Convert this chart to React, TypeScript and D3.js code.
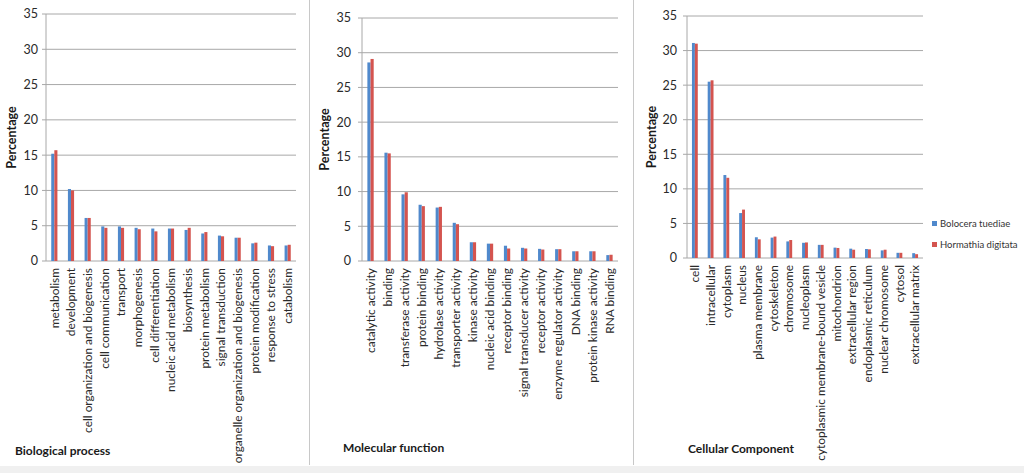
import React from "react";
import * as d3 from "d3";

const series = ["Bolocera tuediae", "Hormathia digitata"];
const colors = ["#5089cc", "#d4544f"];
const yTicks = [0, 5, 10, 15, 20, 25, 30, 35];

const bpCategories = [
  "metabolism", "development", "cell organization and biogenesis", "cell communication",
  "transport", "morphogenesis", "cell differentiation", "nucleic acid metabolism",
  "biosynthesis", "protein metabolism", "signal transduction",
  "organelle organization and biogenesis", "protein modification", "response to stress", "catabolism",
];
const bpBolocera = [15.2, 10.2, 6.1, 4.9, 4.9, 4.7, 4.6, 4.6, 4.4, 3.9, 3.6, 3.3, 2.5, 2.2, 2.2];
const bpHormathia = [15.7, 10.0, 6.1, 4.7, 4.7, 4.5, 4.2, 4.6, 4.7, 4.1, 3.5, 3.3, 2.6, 2.1, 2.3];

const mfCategories = [
  "catalytic activity", "binding", "transferase activity", "protein binding", "hydrolase activity",
  "transporter activity", "kinase activity", "nucleic acid binding", "receptor binding",
  "signal transducer activity", "receptor activity", "enzyme regulator activity", "DNA binding",
  "protein kinase activity", "RNA binding",
];
const mfBolocera = [28.6, 15.6, 9.6, 8.1, 7.7, 5.5, 2.7, 2.5, 2.2, 1.9, 1.75, 1.7, 1.4, 1.4, 0.85];
const mfHormathia = [29.1, 15.5, 9.9, 7.9, 7.8, 5.3, 2.7, 2.5, 1.8, 1.8, 1.65, 1.7, 1.4, 1.4, 0.9];

const ccCategories = [
  "cell", "intracellular", "cytoplasm", "nucleus", "plasma membrane", "cytoskeleton", "chromosome",
  "nucleoplasm", "cytoplasmic membrane-bound vesicle", "mitochondrion", "extracellular region",
  "endoplasmic reticulum", "nuclear chromosome", "cytosol", "extracellular matrix",
];
const ccBolocera = [31.1, 25.5, 12.0, 6.5, 3.0, 2.95, 2.4, 2.2, 1.9, 1.5, 1.35, 1.3, 1.1, 0.75, 0.7];
const ccHormathia = [31.0, 25.7, 11.6, 7.0, 2.7, 3.1, 2.6, 2.25, 1.9, 1.45, 1.2, 1.25, 1.2, 0.75, 0.55];

const FONT = "Lato, 'Open Sans', sans-serif";

type PanelProps = {
  title: string;
  cats: string[];
  a: number[];
  b: number[];
  x0: number;
  x1: number;
  yTop: number;
  yZero: number;
  tickRight: number;
  yTitleX: number;
  titleX: number;
  titleY: number;
};

function Panel(p: PanelProps) {
  const x = d3.scaleBand<string>().domain(p.cats).range([p.x0, p.x1]).padding(0);
  const y = d3.scaleLinear().domain([0, 35]).range([p.yZero, p.yTop]);
  const bw = x.bandwidth() * 0.185;
  const grid = "#a8a8a8";
  return (
    <g>
      {yTicks.map((t) => (
        <g key={t}>
          <line x1={p.x0 - 4} x2={p.x1} y1={y(t)} y2={y(t)} stroke={grid} strokeWidth={1} />
          <text x={p.tickRight} y={y(t)} dy="0.35em" textAnchor="end" fontSize={12.5} fill="#2a2a2a" fontFamily={FONT}>
            {t}
          </text>
        </g>
      ))}
      <line x1={p.x0} x2={p.x0} y1={p.yTop} y2={p.yZero} stroke={grid} strokeWidth={1} />
      {p.cats.map((c, i) => {
        const cx = (x(c) as number) + x.bandwidth() / 2;
        return (
          <g key={c}>
            <rect x={cx - bw} y={y(p.a[i])} width={bw} height={y(0) - y(p.a[i])} fill={colors[0]} />
            <rect x={cx} y={y(p.b[i])} width={bw} height={y(0) - y(p.b[i])} fill={colors[1]} />
            <text
              transform={`translate(${cx},${p.yZero + 7}) rotate(-90)`}
              textAnchor="end"
              dy="0.35em"
              fontSize={11.9}
              fill="#2a2a2a"
              fontFamily={FONT}
            >
              {c}
            </text>
          </g>
        );
      })}
      <text
        transform={`translate(${p.yTitleX},${(p.yTop + p.yZero) / 2 + 0}) rotate(-90)`}
        textAnchor="middle"
        dy="0.35em"
        fontSize={12.5}
        fontWeight="bold"
        fill="#1a1a1a"
        fontFamily={FONT}
      >
        Percentage
      </text>
      <text x={p.titleX} y={p.titleY} dy="0.35em" fontSize={12} fontWeight="bold" fill="#1a1a1a" fontFamily={FONT}>
        {p.title}
      </text>
    </g>
  );
}

export default function App() {
  return (
    <svg
      width={1024}
      height={473}
      style={{ position: "absolute", left: 0, top: 0, background: "#fff" }}
    >
      <rect x={0} y={0} width={1024} height={473} fill="#fff" />
      <rect x={0} y={466} width={1024} height={7} fill="#f0f0f0" />
      <line x1={309.5} x2={309.5} y1={0} y2={465} stroke="#c8c8c8" />
      <line x1={633.5} x2={633.5} y1={0} y2={465} stroke="#c8c8c8" />
      <Panel
        title="Biological process"
        cats={bpCategories}
        a={bpBolocera}
        b={bpHormathia}
        x0={46}
        x1={296}
        yTop={14}
        yZero={261}
        tickRight={38}
        yTitleX={12}
        titleX={15}
        titleY={451}
      />
      <Panel
        title="Molecular function"
        cats={mfCategories}
        a={mfBolocera}
        b={mfHormathia}
        x0={362}
        x1={618}
        yTop={18}
        yZero={261}
        tickRight={351}
        yTitleX={325}
        titleX={343}
        titleY={448}
      />
      <Panel
        title="Cellular Component"
        cats={ccCategories}
        a={ccBolocera}
        b={ccHormathia}
        x0={687}
        x1={923}
        yTop={16}
        yZero={258}
        tickRight={677}
        yTitleX={652}
        titleX={688}
        titleY={449}
      />
      {series.map((s, i) => (
        <g key={s}>
          <rect x={932} y={221 + i * 21} width={5} height={5} fill={colors[i]} />
          <text x={940} y={223.5 + i * 21} dy="0.35em" fontSize={9.5} fill="#333" fontFamily={FONT}>
            {s}
          </text>
        </g>
      ))}
    </svg>
  );
}
